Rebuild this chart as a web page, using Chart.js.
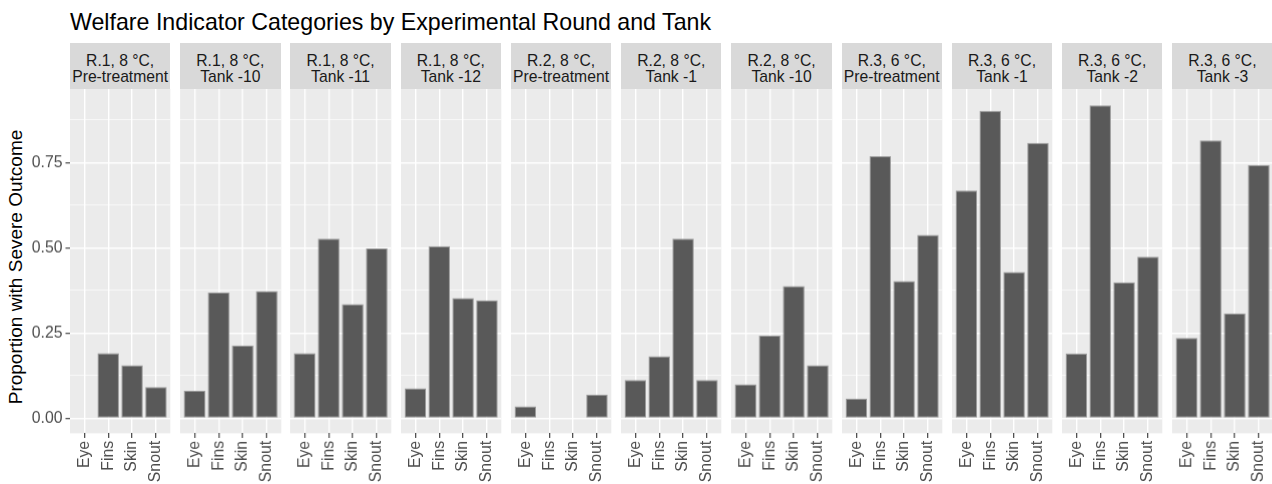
<!DOCTYPE html>
<html>
<head>
<meta charset="utf-8">
<title>Welfare Indicator Categories</title>
<script src="https://cdn.jsdelivr.net/npm/chart.js@4.4.1/dist/chart.umd.min.js"></script>
<style>
  body {
    margin: 0;
    width: 1272px;
    height: 484px;
    overflow: hidden;
    position: relative;
    background: #ffffff;
    font-family: "Liberation Sans", Arial, sans-serif;
  }
  .title {
    position: absolute;
    left: 70px;
    top: 11px;
    font-size: 23.2px;
    line-height: 23px;
    color: #000000;
    white-space: nowrap;
  }
  .ytitle {
    position: absolute;
    left: 15.2px;
    top: 267px;
    font-size: 19px;
    line-height: 19px;
    color: #000000;
    white-space: nowrap;
    transform: translate(-50%, -50%) rotate(-90deg);
  }
  .strip {
    position: absolute;
    box-sizing: border-box;
    background: #D9D9D9;
    color: #1A1A1A;
    font-size: 15.7px;
    line-height: 16px;
    text-align: center;
    white-space: nowrap;
    padding-top: 10px;
  }
  .panel { position: absolute; }
</style>
</head>
<body>
<div class="title">Welfare Indicator Categories by Experimental Round and Tank</div>
<div class="ytitle">Proportion with Severe Outcome</div>

<script>
// Daten: eine Facette pro Runde/Tank, vier Indikatoren je Facette
const categories = ['Eye', 'Fins', 'Skin', 'Snout'];
const panelRound = ['R.1, 8 °C,', 'R.1, 8 °C,', 'R.1, 8 °C,', 'R.1, 8 °C,',
                    'R.2, 8 °C,', 'R.2, 8 °C,', 'R.2, 8 °C,',
                    'R.3, 6 °C,', 'R.3, 6 °C,', 'R.3, 6 °C,', 'R.3, 6 °C,'];
const panelTank = ['Pre-treatment', 'Tank -10', 'Tank -11', 'Tank -12',
                   'Pre-treatment', 'Tank -1', 'Tank -10',
                   'Pre-treatment', 'Tank -1', 'Tank -2', 'Tank -3'];

const eyeValues   = [0,     0.081, 0.191, 0.088, 0.035, 0.112, 0.100, 0.058, 0.668, 0.190, 0.236];
const finsValues  = [0.191, 0.369, 0.527, 0.505, 0,     0.182, 0.243, 0.769, 0.902, 0.918, 0.815];
const skinValues  = [0.156, 0.214, 0.335, 0.353, 0,     0.527, 0.388, 0.403, 0.429, 0.399, 0.308];
const snoutValues = [0.092, 0.373, 0.498, 0.346, 0.070, 0.112, 0.156, 0.538, 0.808, 0.474, 0.743];

const yTicks = [0, 0.25, 0.5, 0.75];

// Layout (Pixel)
const PANEL_X0 = 70;
const PANEL_STEP = 110.23;
const PANEL_W = 100.3;
const STRIP_TOP = 43.3;
const PANEL_TOP = 89.3;
const PANEL_BOTTOM = 432.7;
const Y_MIN = -0.044;
const Y_MAX = 0.966;

const FONT = '"Liberation Sans", Arial, sans-serif';
const TICK_SIZE = 15.8;

// Haupt- und Nebengitter (Nebenlinien mittig zwischen den Haupt-Ticks)
const gridValues = [];
yTicks.forEach(v => { gridValues.push(v); gridValues.push(v + 0.125); });
const isMajor = v => yTicks.indexOf(v) !== -1;

// Grauer Panel-Hintergrund wie bei ggplot
const panelBackground = {
  id: 'panelBackground',
  beforeDraw(chart) {
    const a = chart.chartArea;
    const ctx = chart.ctx;
    ctx.save();
    ctx.fillStyle = '#EBEBEB';
    ctx.fillRect(a.left, a.top, a.right - a.left, a.bottom - a.top);
    ctx.restore();
  }
};

function makePanel(i) {
  const first = i === 0;
  const left = PANEL_X0 + i * PANEL_STEP;
  const values = [eyeValues[i], finsValues[i], skinValues[i], snoutValues[i]];

  // Streifen mit Facettentitel
  const strip = document.createElement('div');
  strip.className = 'strip';
  strip.style.left = left + 'px';
  strip.style.top = STRIP_TOP + 'px';
  strip.style.width = PANEL_W + 'px';
  strip.style.height = (PANEL_TOP - STRIP_TOP) + 'px';
  strip.innerHTML = panelRound[i] + '<br>' + panelTank[i];
  document.body.appendChild(strip);

  const wrap = document.createElement('div');
  wrap.className = 'panel';
  const padLeft = first ? 0 : 12;
  wrap.style.left = (first ? 0 : left - 12) + 'px';
  wrap.style.top = (PANEL_TOP - 20) + 'px';
  wrap.style.width = (first ? left + PANEL_W + 12 : PANEL_W + 24) + 'px';
  wrap.style.height = (484 - PANEL_TOP + 20) + 'px';
  const canvas = document.createElement('canvas');
  wrap.appendChild(canvas);
  document.body.appendChild(wrap);

  new Chart(canvas, {
    type: 'bar',
    data: {
      datasets: [{
        data: values.map((v, k) => ({ x: k + 1, y: v })),
        backgroundColor: '#595959',
        borderColor: '#9A9A9A',
        borderWidth: 1,
        borderSkipped: false,
        barPercentage: 0.9,
        categoryPercentage: 1
      }]
    },
    options: {
      responsive: true,
      maintainAspectRatio: false,
      animation: false,
      events: [],
      layout: { padding: { left: padLeft, right: 12, top: 20, bottom: 0 } },
      plugins: {
        legend: { display: false },
        tooltip: { enabled: false }
      },
      scales: {
        x: {
          type: 'linear',
          min: 0.4,
          max: 4.6,
          offset: false,
          bounds: 'data',
          afterBuildTicks: s => { s.ticks = categories.map((c, k) => ({ value: k + 1 })); },
          afterFit: s => { s.height = 484 - PANEL_BOTTOM; },
          border: { display: false },
          grid: {
            offset: false,
            color: '#FFFFFF',
            lineWidth: 1.4,
            drawTicks: true,
            tickLength: 4.5,
            tickWidth: 1.1,
            tickColor: '#333333'
          },
          ticks: {
            autoSkip: false,
            minRotation: 90,
            maxRotation: 90,
            padding: 3,
            color: '#4D4D4D',
            font: { family: FONT, size: TICK_SIZE },
            callback: v => categories[Math.round(v) - 1]
          }
        },
        y: {
          min: Y_MIN,
          max: Y_MAX,
          afterBuildTicks: s => { s.ticks = gridValues.map(v => ({ value: v })); },
          afterFit: s => { s.width = first ? PANEL_X0 : 0; },
          border: { display: false },
          grid: {
            color: '#FFFFFF',
            lineWidth: c => (c.tick && isMajor(c.tick.value)) ? 1.4 : 0.7,
            drawTicks: first,
            tickLength: 4.5,
            tickWidth: 1.1,
            tickColor: c => (c.tick && isMajor(c.tick.value)) ? '#333333' : 'rgba(0,0,0,0)'
          },
          ticks: {
            display: first,
            padding: 3,
            color: '#4D4D4D',
            font: { family: FONT, size: TICK_SIZE },
            callback: v => isMajor(v) ? v.toFixed(2) : ''
          }
        }
      }
    },
    plugins: [panelBackground]
  });
}

for (let i = 0; i < panelTank.length; i++) {
  makePanel(i);
}
</script>
</body>
</html>
